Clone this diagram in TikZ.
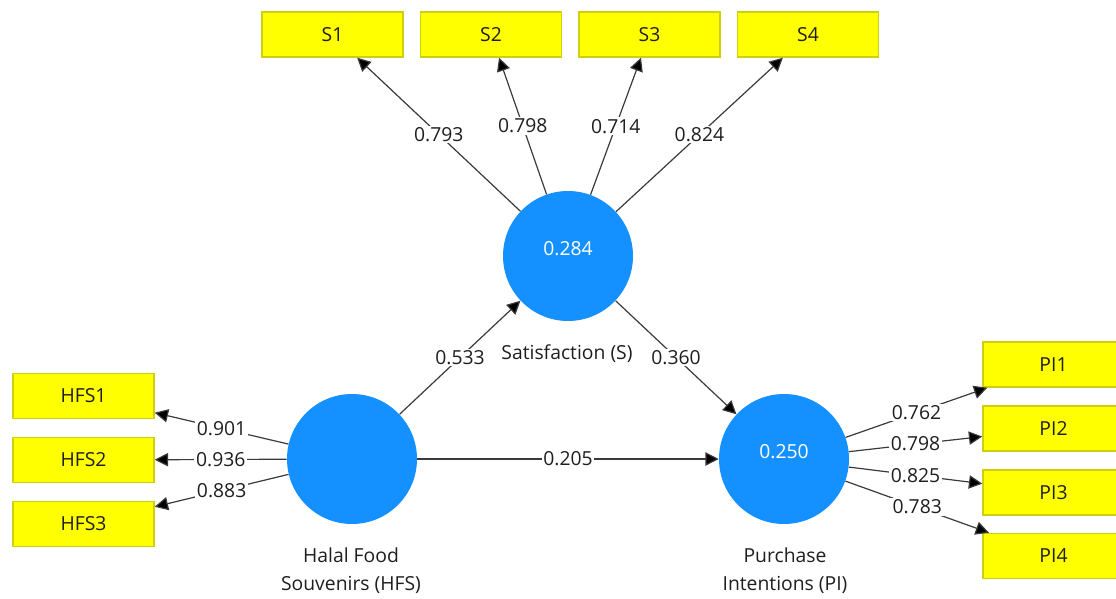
\documentclass[tikz,border=0pt]{standalone}
\usepackage{fontspec}
\setmainfont{Open Sans}
\usetikzlibrary{arrows.meta}
\definecolor{lvblue}{HTML}{1591FF}
\definecolor{boxyellow}{HTML}{FFFF00}
\definecolor{boxborder}{HTML}{CFCF10}
\definecolor{linegray}{HTML}{3A3A3A}
\definecolor{txtcol}{HTML}{1E1E1E}
\tikzset{
  lv/.style={circle, fill=lvblue, draw=none, minimum size=130*0.75pt, inner sep=0pt},
  lvnum/.style={text=white, font=\fontsize{14.5pt}{17pt}\selectfont, inner sep=0pt},
  mv/.style={rectangle, fill=boxyellow, draw=boxborder, line width=1.1pt, minimum width=141*0.75pt, minimum height=45*0.75pt, inner sep=0pt, text=txtcol, font=\fontsize{14.5pt}{17pt}\selectfont},
  arr/.style={draw=linegray, line width=0.9pt, -{Triangle[length=10pt,width=10pt,fill=black]}},
  lbl/.style={fill=white, inner sep=1.2pt, text=txtcol, font=\fontsize{14.5pt}{17pt}\selectfont},
  lvname/.style={text=txtcol, align=center, font=\fontsize{14.5pt}{21pt}\selectfont, inner sep=0pt}
}
\begin{document}
\begin{tikzpicture}[x=0.75pt,y=-0.75pt]
\useasboundingbox (0,0) rectangle (1116,599);
\begin{scope}
\clip (0,0) rectangle (1116,599);
% latent variables
\node[lv] (S) at (568,256) {};
\node[lv] (HFS) at (352,459) {};
\node[lv] (PI) at (784,459) {};
\node[lvnum] (Snum) at (568,249) {0.284};
\node[lvnum] (PInum) at (784,452) {0.250};
% names
\node[lvname] (Sname) at (567,354) {Satisfaction (S)};
\node[lvname] (HFSname) at (351,571) {Halal Food\\Souvenirs (HFS)};
\node[lvname] (PIname) at (785,571) {Purchase\\Intentions (PI)};
% indicators
\node[mv] (S1) at (332.5,34.5) {S1};
\node[mv] (S2) at (491,34.5) {S2};
\node[mv] (S3) at (649.5,34.5) {S3};
\node[mv] (S4) at (808,34.5) {S4};
\node[mv] (HFS1) at (83.5,396) {HFS1};
\node[mv] (HFS2) at (83.5,460) {HFS2};
\node[mv] (HFS3) at (83.5,524) {HFS3};
\node[mv] (PI1) at (1053.5,364.5) {PI1};
\node[mv] (PI2) at (1053.5,428.5) {PI2};
\node[mv] (PI3) at (1053.5,492.5) {PI3};
\node[mv] (PI4) at (1053.5,556) {PI4};
% outer loadings
\draw[arr] (S) -- node[lbl] {0.793} (S1);
\draw[arr] (S) -- node[lbl] {0.798} (S2);
\draw[arr] (S) -- node[lbl] {0.714} (S3);
\draw[arr] (S) -- node[lbl] {0.824} (S4);
\draw[arr] (HFS) -- node[lbl] {0.901} (HFS1);
\draw[arr] (HFS) -- node[lbl] {0.936} (HFS2);
\draw[arr] (HFS) -- node[lbl] {0.883} (HFS3);
\draw[arr] (PI) -- node[lbl] {0.762} (PI1);
\draw[arr] (PI) -- node[lbl] {0.798} (PI2);
\draw[arr] (PI) -- node[lbl] {0.825} (PI3);
\draw[arr] (PI) -- node[lbl] {0.783} (PI4);
% paths
\draw[arr] (HFS) -- node[lbl] {0.533} (S);
\draw[arr] (S) -- node[lbl] {0.360} (PI);
\draw[arr] (HFS) -- node[lbl] {0.205} (PI);
\end{scope}
\end{tikzpicture}
\end{document}
